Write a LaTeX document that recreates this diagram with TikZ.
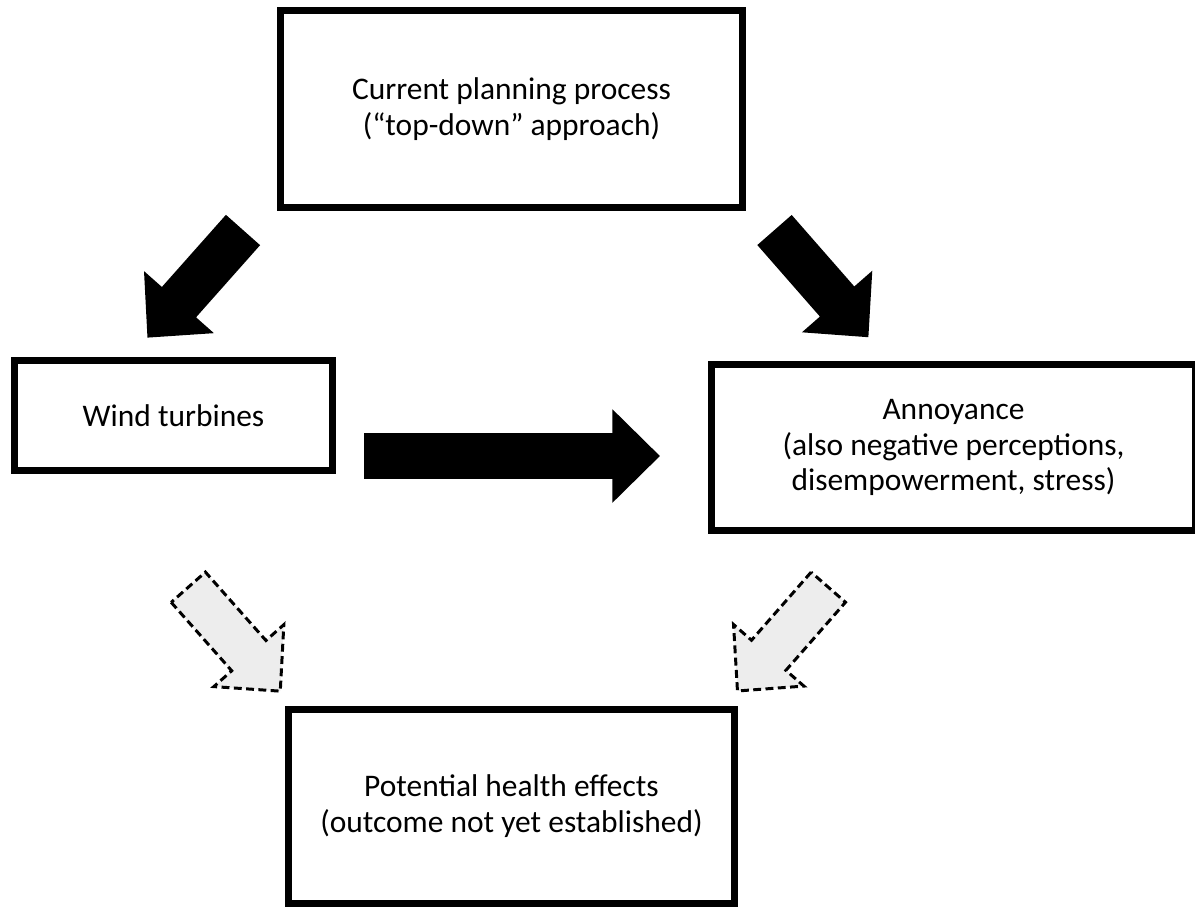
\documentclass[tikz,border=0pt]{standalone}
\usepackage{fontspec}
\setmainfont{Carlito}

\tikzset{
  pics/fatarrow/.style={code={
    \path[pic actions] (0pt,-13pt) -- (#1pt-27pt,-13pt) -- (#1pt-27pt,-26.6pt)
      -- (#1pt,0pt) -- (#1pt-27pt,26.6pt) -- (#1pt-27pt,13pt) -- (0pt,13pt) -- cycle;
  }}
}

\begin{document}
\begin{tikzpicture}[x=0.02cm, y=-0.02cm,
    box/.style={rectangle, draw, line width=4pt, align=center,
        font=\fontsize{17.9}{20.4}\selectfont},
    fat/.style={fill=black},
    faint/.style={fill=black!7, draw, line width=1.7pt, dash pattern=on 4.5pt off 2.5pt}]

  \path[use as bounding box, fill=white] (0,0) rectangle (1195,907);

  \node[box, minimum width=9.24cm, minimum height=3.94cm] (plan) at (511.5,109)
      {Current planning process\\(“top-down” approach)};
  \node[box, minimum width=6.36cm, minimum height=2.2cm] (turbines) at (173.5,415.5)
      {Wind turbines};
  \node[box, minimum width=9.68cm, minimum height=3.32cm] (annoy) at (953.5,447.5)
      {Annoyance\\(also negative perceptions,\\disempowerment, stress)};
  \node[box, minimum width=8.92cm, minimum height=3.88cm] (health) at (511.5,806.5)
      {Potential health effects\\(outcome not yet established)};

  \pic[fat, rotate=228.4] (planturb) at (243,230) {fatarrow=81.9};
  \pic[fat, rotate=-48.8] (planann) at (774.5,230) {fatarrow=81.1};
  \pic[fat] (turbann) at (364,456) {fatarrow=168.4};
  \pic[faint, rotate=-48.5] (turbhealth) at (188.3,587.2) {fatarrow=79};
  \pic[faint, rotate=228.8] (annhealth) at (828.3,587.2) {fatarrow=78.5};
\end{tikzpicture}
\end{document}
